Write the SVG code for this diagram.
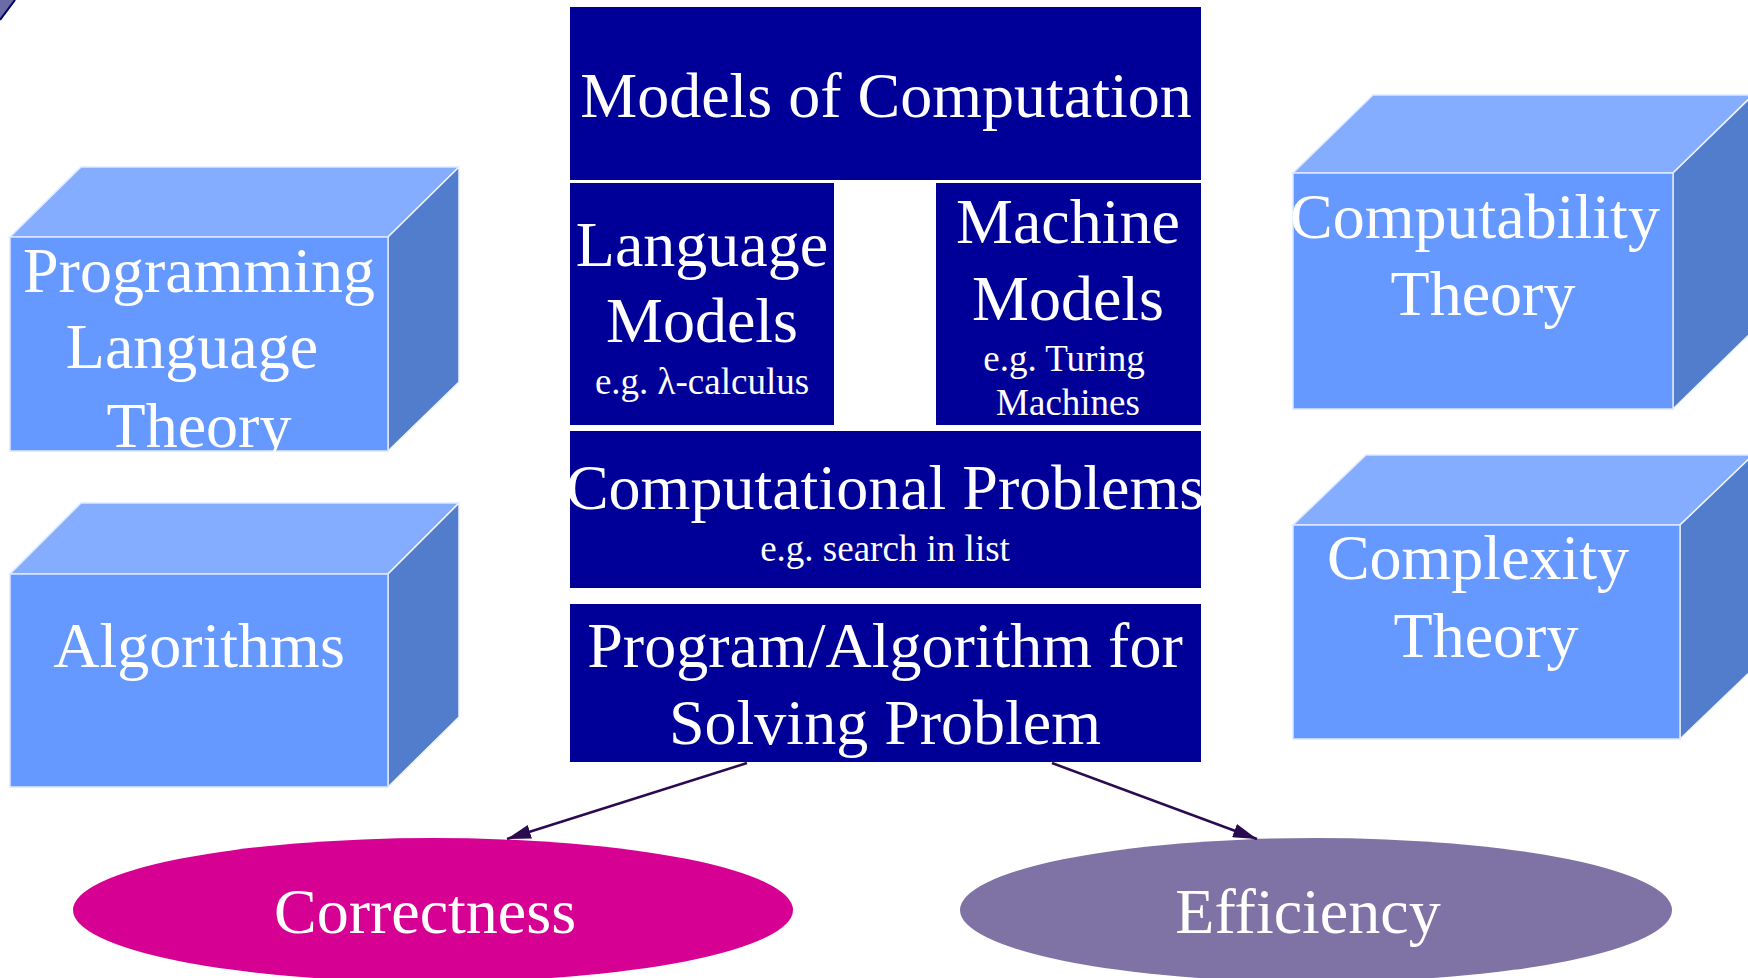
<svg xmlns="http://www.w3.org/2000/svg" width="1748" height="978" viewBox="0 0 1748 978">
<style>
.navy{fill:#000099;}
.t{font-family:"Liberation Serif","Times New Roman",serif;fill:#ffffff;text-anchor:middle;}
.big{font-size:64px;}
.small{font-size:37px;}
.front{fill:#6699FF;stroke:#dde8ff;stroke-width:1.5;}
.top{fill:#85ADFF;stroke:#dde8ff;stroke-width:1.5;}
.side{fill:#527DCC;stroke:#eef4ff;stroke-width:1.5;}
.conn{stroke:#2b0b4f;stroke-width:2.5;fill:none;}
</style>
<defs>
<marker id="ah" viewBox="0 0 24 14" refX="24" refY="7" markerWidth="24" markerHeight="14" markerUnits="userSpaceOnUse" orient="auto">
<path d="M0,0 L24,7 L0,14 z" fill="#2b0b4f"/>
</marker>
</defs>
<rect x="0" y="0" width="1748" height="978" fill="#ffffff"/>
<g id="corner">
<polygon points="0,0 15,0 0,20" fill="#6b6ba8"/>
<line x1="0" y1="20" x2="15" y2="0" stroke="#000066" stroke-width="2"/>
</g>
<g id="plt">
<polygon class="top" points="10,237 81,167 459,167 388,237"/>
<polygon class="side" points="388,237 459,167 459,382 388,451"/>
<rect class="front" x="10" y="237" width="378" height="214"/>
<text class="t big" x="199" y="292">Programming</text>
<text class="t big" x="192" y="368">Language</text>
<text class="t big" x="199" y="447">Theory</text>
</g>
<g id="algorithms">
<polygon class="top" points="10,574 81,503 459,503 388,574"/>
<polygon class="side" points="388,574 459,503 459,717 388,787"/>
<rect class="front" x="10" y="574" width="378" height="213"/>
<text class="t big" x="199" y="667">Algorithms</text>
</g>
<g id="computability">
<polygon class="top" points="1293,173 1373,95 1753,95 1673,173"/>
<polygon class="side" points="1673,173 1753,95 1753,331 1673,409"/>
<rect class="front" x="1293" y="173" width="380" height="236"/>
<text class="t big" x="1475" y="238">Computability</text>
<text class="t big" x="1483" y="315">Theory</text>
</g>
<g id="complexity">
<polygon class="top" points="1293,525 1366,455 1753,455 1680,525"/>
<polygon class="side" points="1680,525 1753,455 1753,669 1680,739"/>
<rect class="front" x="1293" y="525" width="387" height="214"/>
<text class="t big" x="1478" y="579">Complexity</text>
<text class="t big" x="1486" y="657">Theory</text>
</g>
<g id="models">
<rect class="navy" x="570" y="7" width="631" height="173"/>
<text class="t big" x="886" y="117">Models of Computation</text>
</g>
<g id="language-models">
<rect class="navy" x="570" y="183" width="264" height="242"/>
<text class="t big" x="702" y="266">Language</text>
<text class="t big" x="702" y="342">Models</text>
<text class="t small" x="702" y="394">e.g. λ-calculus</text>
</g>
<g id="machine-models">
<rect class="navy" x="936" y="183" width="265" height="242"/>
<text class="t big" x="1068" y="243">Machine</text>
<text class="t big" x="1068" y="320">Models</text>
<text class="t small" x="1064" y="371">e.g. Turing</text>
<text class="t small" x="1068" y="415">Machines</text>
</g>
<g id="problems">
<rect class="navy" x="570" y="431" width="631" height="157"/>
<text class="t big" x="885" y="509">Computational Problems</text>
<text class="t small" x="885" y="561">e.g. search in list</text>
</g>
<g id="program">
<rect class="navy" x="570" y="604" width="631" height="158"/>
<text class="t big" x="885" y="667">Program/Algorithm for</text>
<text class="t big" x="885" y="744">Solving Problem</text>
</g>
<g id="correctness">
<ellipse cx="433" cy="910" rx="360" ry="72" fill="#D60093"/>
<text class="t big" x="425" y="933">Correctness</text>
</g>
<g id="efficiency">
<ellipse cx="1316" cy="910" rx="356" ry="72" fill="#7F73A5"/>
<text class="t big" x="1308" y="933">Efficiency</text>
</g>
<g id="connectors">
<line class="conn" x1="747" y1="763" x2="507" y2="839" marker-end="url(#ah)"/>
<line class="conn" x1="1052" y1="763" x2="1257" y2="839" marker-end="url(#ah)"/>
</g>
</svg>
